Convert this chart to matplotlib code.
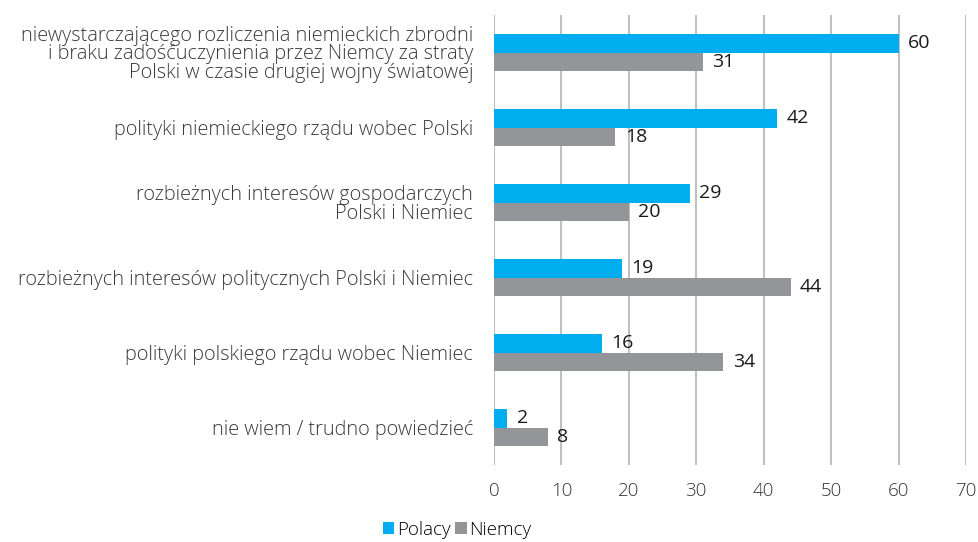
import matplotlib.pyplot as plt
import numpy as np

# dane
kategorie = [
    "niewystarczającego rozliczenia niemieckich zbrodni\ni braku zadośćuczynienia przez Niemcy za straty\nPolski w czasie drugiej wojny światowej",
    "polityki niemieckiego rządu wobec Polski",
    "rozbieżnych interesów gospodarczych\nPolski i Niemiec",
    "rozbieżnych interesów politycznych Polski i Niemiec",
    "polityki polskiego rządu wobec Niemiec",
    "nie wiem / trudno powiedzieć",
]
polacy = [60, 42, 29, 19, 16, 2]
niemcy = [31, 18, 20, 44, 34, 8]
ticki = [0, 10, 20, 30, 40, 50, 60, 70]

plt.rcParams['font.family'] = ['Open Sans', 'DejaVu Sans']

fig = plt.figure(figsize=(9.79, 5.42), dpi=100)
ax = fig.add_axes([0.5046, 0.142, 0.4821, 0.8303])

y = np.arange(len(kategorie))
h = 0.245
ax.barh(y - h / 2, polacy, height=h, color='#00AEEF', label='Polacy', zorder=3)
ax.barh(y + h / 2, niemcy, height=h, color='#939598', label='Niemcy', zorder=3)

for i in range(len(kategorie)):
    ax.text(polacy[i] + 1.4, y[i] - h / 2, str(polacy[i]), va='center', ha='left',
            fontsize=14, color='#1a1a1a')
    ax.text(niemcy[i] + 1.4, y[i] + h / 2, str(niemcy[i]), va='center', ha='left',
            fontsize=14, color='#1a1a1a')

ax.set_ylim(len(kategorie) - 0.5, -0.5)
ax.set_xlim(0, 70)
ax.set_xticks(ticki)
ax.set_xticklabels([str(t) for t in ticki], fontweight='light', color='#333333')
ax.set_yticks(y)
ax.set_yticklabels(kategorie, fontweight='light', color='#3a3a3a', linespacing=0.9)
ax.tick_params(axis='x', length=0, pad=12, labelsize=13.5)
ax.tick_params(axis='y', length=0, pad=15, labelsize=14.3)
ax.xaxis.grid(True, color='#c0c0c0', linewidth=1.5, zorder=0)
for s in ax.spines.values():
    s.set_visible(False)

fig.legend(loc='lower center', bbox_to_anchor=(0.467, -0.025), ncol=2, frameon=False,
           handlelength=0.6, handleheight=0.6, handletextpad=0.15,
           columnspacing=0.25, prop={'weight': 'light', 'size': 13.5})

fig.savefig('out.png', dpi=100)
